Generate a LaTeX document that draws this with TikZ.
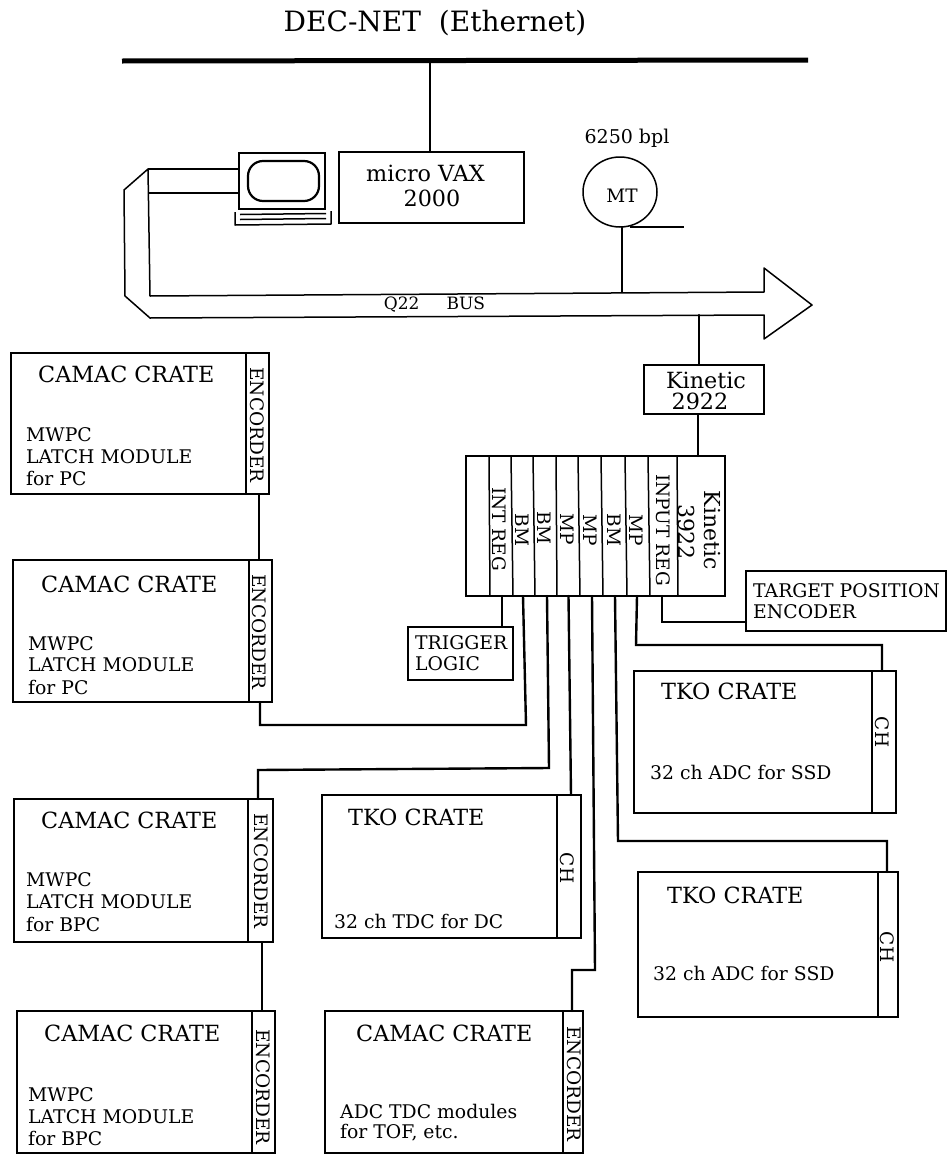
\documentclass[tikz,border=0pt]{standalone}
\usepackage{fontspec}
\setmainfont{DejaVu Serif}
\usetikzlibrary{fit,shapes.geometric}
\newcommand{\bx}[5]{\node[bxs,fit={(#2,#3)(#4,#5)}] (#1) {};}
\tikzset{
 bxs/.style={draw,inner sep=0pt,line width=1.5pt,fill=white},
 wire/.style={line width=2.4pt,line cap=round,line join=miter},
 thin line/.style={line width=1.5pt,line join=round},
 big/.style={font=\fontsize{22.3}{25}\selectfont,inner sep=0pt,anchor=west},
 mid/.style={font=\fontsize{18.8}{21}\selectfont,inner sep=0pt,anchor=west},
 vert/.style={font=\fontsize{18.5}{21}\selectfont,inner sep=0pt,rotate=-90},
 vertbig/.style={font=\fontsize{22}{25}\selectfont,inner sep=0pt,rotate=-90},
}
\begin{document}
\begin{tikzpicture}[x=1pt,y=-1pt]
\useasboundingbox (0,0) rectangle (946,1154);
% Ethernet
\node[font=\fontsize{28}{32}\selectfont,inner sep=0pt] (title) at (435,23) {DEC-NET\ \ (Ethernet)};
\coordinate (ethL) at (122,61); \coordinate (ethR) at (808,60);
\draw[line width=5pt] (ethL) -- (ethR);
\coordinate (ethT) at (430,61);
% micro VAX
\bx{vax}{339}{152}{524}{223}
\node[big,anchor=center] (vaxa) at (425.5,173) {micro VAX};
\node[big,anchor=center] (vaxb) at (432,198) {2000};
\draw[wire] (ethT) -- (ethT |- vax.north);
% monitor
\node[draw,line width=2.2pt,fill=white,fit={(239,153)(325,209)},inner sep=0pt] (mon) {};
\node[draw,line width=2.2pt,rounded corners=15pt,fit={(248,161)(319,201)},inner sep=0pt] (screen) {};
\coordinate (kA) at (235,212); \coordinate (kB) at (235,225); \coordinate (kC) at (331,224); \coordinate (kD) at (331,211);
\draw[thin line] (kA) -- (kB) -- (kC) -- (kD);
\coordinate (kE) at (240,214.5); \coordinate (kF) at (326,213.5);
\coordinate (kG) at (240,219.5); \coordinate (kH) at (326,218.5);
\draw[thin line] (kE) -- (kF); \draw[thin line] (kG) -- (kH);
% MT
\node[draw,ellipse,line width=1.5pt,minimum width=74pt,minimum height=70pt,inner sep=0pt] (mt) at (620,192) {};
\node[font=\fontsize{18.5}{21}\selectfont,inner sep=0pt] (mtl) at (622,196) {MT};
\node[font=\fontsize{19}{22}\selectfont,inner sep=0pt] (bpl) at (627,138) {6250 bpl};
\coordinate (mtT) at (684,227);
\coordinate (mtS) at (630,227);
\draw[thin line] (mtS) -- (mtT);
% Bus
\coordinate (b1) at (148,169); \coordinate (b2) at (124,190); \coordinate (b3) at (125,296); \coordinate (b4) at (150,318);
\coordinate (b5) at (764,315); \coordinate (b6) at (764,339); \coordinate (b7) at (812,305); \coordinate (b8) at (764,268); \coordinate (b9) at (764,292); \coordinate (b10) at (150,296);
\draw[thin line] (b10) -- (b9) -- (b8) -- (b7) -- (b6) -- (b5) -- (b4) -- (b3) -- (b2) -- (b1) -- cycle;
\draw[thin line] (b1) -- (mon.west |- b1);
\coordinate (b11) at (149,193);
\draw[thin line] (b11) -- (mon.west |- b11);
\node[font=\fontsize{17}{20}\selectfont,inner sep=0pt] (q22) at (434.5,305) {Q22\hspace{27pt}BUS};
\coordinate (busA) at (622,292); \coordinate (busB) at (699,315);
\draw[wire] (busA) -- (busA |- mt.south);
% Kinetic 2922
\bx{k29}{644}{365}{764}{414}
\node[big,anchor=center] (k29a) at (706,380) {Kinetic};
\node[big,anchor=center] (k29b) at (700,401) {2922};
\draw[wire] (busB) -- (busB |- k29.north);
% crate
\bx{crate}{466}{456}{725}{596}
\foreach \n/\x/\z in {a/489/490,b/511/513,c/533/535,d/556/557,e/578/580,f/601/603,g/625/627,h/648/650,i/677/678}{
 \coordinate (t\n) at (\x,456); \coordinate (u\n) at (\z,596);
 \draw[thin line] (t\n) -- (u\n);}
\coordinate (busC) at (698,456);
\draw[wire] (k29.south -| busC) -- (busC);
\node[vert] (r1) at (499,529) {INT REG};
\node[vert] (r2) at (522,530) {BM};
\node[vert] (r3) at (544,528) {BM};
\node[vert] (r4) at (567,529) {MP};
\node[vert] (r5) at (590,530) {MP};
\node[vert] (r6) at (614,530) {BM};
\node[vert] (r7) at (636,530) {MP};
\node[vert] (r8) at (663,530) {INPUT REG};
\node[vertbig] (r9) at (687,532) {3922};
\node[vertbig] (r10) at (712,530) {Kinetic};
% trigger
\node[draw,line width=2pt,fill=white,fit={(408,627)(513,680)},inner sep=0pt] (trg) {};
\node[mid] (trga) at (415,643) {TRIGGER};
\node[mid] (trgb) at (415,664) {LOGIC};
\coordinate (pA) at (502,596);
\draw[wire] (pA) -- (pA |- trg.north);
% target
\bx{tgt}{746}{571}{946}{631}
\node[mid] (tgta) at (753,591) {TARGET POSITION};
\node[mid] (tgtb) at (753,612) {ENCODER};
\coordinate (pI) at (662,596); \coordinate (tI) at (746,622);
\draw[wire] (pI) |- (tI);
% CAMAC crates
\bx{c1}{11}{353}{269}{494}
\bx{c2}{13}{560}{272}{702}
\bx{c3}{14}{799}{273}{942}
\bx{c4}{17}{1011}{275}{1153}
\bx{c5}{325}{1011}{583}{1153}
\foreach \cc/\x in {c1/246,c2/249,c3/248,c4/252,c5/563}{
 \coordinate (\cc d) at (\x,0); \draw[thin line] (\cc.north -| \cc d) -- (\cc.south -| \cc d);}
\foreach \n/\x/\y in {e1/257/425,e2/259/632,e3/261/871,e4/263/1087,e5/574/1084}
 \node[vert] (\n) at (\x,\y) {ENCORDER};
\node[big] (c1a) at (38,374) {CAMAC CRATE};
\node[mid] (c1b) at (26,435) {MWPC};
\node[mid] (c1c) at (26,457) {LATCH MODULE};
\node[mid] (c1e) at (26,478) {for PC};
\node[big] (c2a) at (41,584) {CAMAC CRATE};
\node[mid] (c2b) at (28,644) {MWPC};
\node[mid] (c2c) at (28,665) {LATCH MODULE};
\node[mid] (c2e) at (28,687) {for PC};
\node[big] (c3a) at (41,820) {CAMAC CRATE};
\node[mid] (c3b) at (26,880) {MWPC};
\node[mid] (c3c) at (26,902) {LATCH MODULE};
\node[mid] (c3e) at (26,924) {for BPC};
\node[big] (c4a) at (44,1033) {CAMAC CRATE};
\node[mid] (c4b) at (28,1095) {MWPC};
\node[mid] (c4c) at (28,1117) {LATCH MODULE};
\node[mid] (c4e) at (28,1138) {for BPC};
\node[big] (c5a) at (356,1033) {CAMAC CRATE};
\node[mid] (c5b) at (340,1111) {ADC TDC modules};
\node[mid] (c5c) at (340,1133) {for TOF, etc.};
% TKO crates
\bx{t1}{634}{671}{896}{813}
\bx{t2}{322}{795}{581}{938}
\bx{t3}{638}{872}{898}{1017}
\foreach \cc/\x in {t1/872,t2/557,t3/878}{
 \coordinate (\cc d) at (\x,0); \draw[thin line] (\cc.north -| \cc d) -- (\cc.south -| \cc d);}
\foreach \n/\x/\y in {h1/882/732,h2/567/868,h3/887/947}
 \node[vert] (\n) at (\x,\y) {CH};
\node[big] (t1a) at (661,691) {TKO CRATE};
\node[mid] (t1b) at (650,772) {32 ch ADC for SSD};
\node[big] (t2a) at (348,817) {TKO CRATE};
\node[mid] (t2b) at (334,921) {32 ch TDC for DC};
\node[big] (t3a) at (667,895) {TKO CRATE};
\node[mid] (t3b) at (653,973) {32 ch ADC for SSD};
% connectors
\coordinate (x1) at (259,0); \coordinate (x2) at (262,0);
\draw[wire] (c1.south -| x1) -- (c2.north -| x1);
\draw[wire] (c3.south -| x2) -- (c4.north -| x2);
\coordinate (pB) at (523,596); \coordinate (pC) at (547,596); \coordinate (pD) at (568.5,596);
\coordinate (pE) at (592,596); \coordinate (pF) at (615,596); \coordinate (pG) at (637,596);
\coordinate (j1a) at (526,725); \coordinate (j1b) at (260,725); \coordinate (j1c) at (260,702);
\coordinate (j2a) at (549,768); \coordinate (j2b) at (258,770); \coordinate (j2c) at (258,799);
\coordinate (j3a) at (571,795);
\coordinate (j4a) at (595,970); \coordinate (j4b) at (572,970); \coordinate (j4c) at (572,1011);
\coordinate (j5a) at (618,841); \coordinate (j5b) at (887,841); \coordinate (j5c) at (887,872);
\coordinate (j6a) at (636,645); \coordinate (j6b) at (882,645); \coordinate (j6c) at (882,671);
\draw[wire] (pB) -- (j1a) -- (j1b) -- (j1c);
\draw[wire] (pC) -- (j2a) -- (j2b) -- (j2c);
\draw[wire] (pD) -- (j3a);
\draw[wire] (pE) -- (j4a) -- (j4b) -- (j4c);
\draw[wire] (pF) -- (j5a) -- (j5b) -- (j5c);
\draw[wire] (pG) -- (j6a) -- (j6b) -- (j6c);
\end{tikzpicture}
\end{document}
